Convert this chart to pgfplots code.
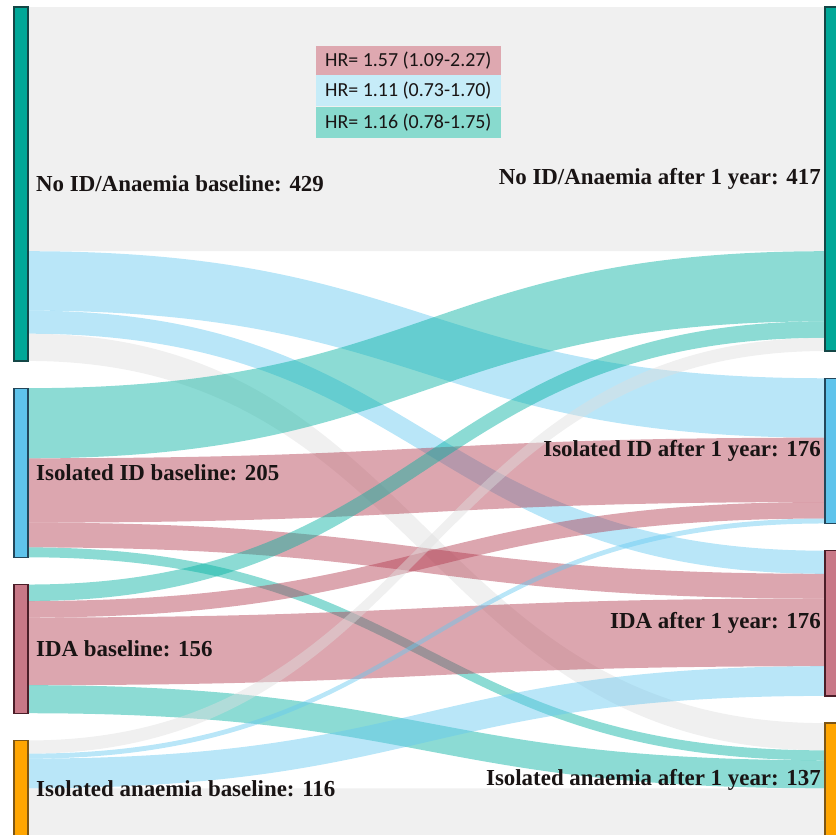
\documentclass[border=0pt]{standalone}
\usepackage{pgfplots}
\pgfplotsset{compat=1.18}
\usepackage{fontspec}
\setmainfont{Liberation Serif}
\newfontfamily\calib{Carlito}
\definecolor{lkgray}{RGB}{222,222,222}
\definecolor{lkblue}{RGB}{100,200,240}
\definecolor{lkteal}{RGB}{0,176,160}
\definecolor{lkred}{RGB}{178,58,78}
\definecolor{ndteal}{RGB}{0,168,152}
\definecolor{ndtealb}{RGB}{20,70,70}
\definecolor{ndblue}{RGB}{95,195,235}
\definecolor{ndblueb}{RGB}{35,70,90}
\definecolor{ndred}{RGB}{200,120,135}
\definecolor{ndredb}{RGB}{75,30,40}
\definecolor{ndorg}{RGB}{255,165,0}
\definecolor{ndorgb}{RGB}{125,85,20}
\definecolor{bxred}{RGB}{222,168,176}
\definecolor{bxblue}{RGB}{198,236,248}
\definecolor{bxteal}{RGB}{136,218,206}
\definecolor{txt}{RGB}{25,20,20}
% flow: colour, left top, left bottom, right top, right bottom (counts, stacked)
\newcommand{\flow}[5]{\fill[#1, fill opacity=0.45] (axis cs:28,#2) .. controls (axis cs:426.5,#2) and (axis cs:426.5,#4) .. (axis cs:825,#4) -- (axis cs:825,#5) .. controls (axis cs:426.5,#5) and (axis cs:426.5,#3) .. (axis cs:28,#3) -- cycle;}
\newcommand{\lab}[1]{\bfseries\fontsize{23}{27}\selectfont\color{txt}#1}
\newcommand{\hr}[1]{\calib\fontsize{20}{24}\selectfont\color{txt}#1}
\begin{document}
\begin{tikzpicture}
\begin{axis}[
  scale only axis, width=836bp, height=835bp,
  hide axis, xmin=0, xmax=836, ymin=-8.485, ymax=1003.6,
  y dir=reverse, clip mode=global]
% No ID baseline (429)
\flow{lkgray}{0}{296}{0}{296}
\flow{lkblue}{296}{368}{450}{522}
\flow{lkblue}{368}{396}{659}{687}
\flow{lkgray}{396}{429}{868}{901}
% Isolated ID baseline (205)
\flow{lkteal}{462}{547}{296}{381}
\flow{lkred}{547}{625}{522}{600}
\flow{lkred}{625}{655}{687}{717}
\flow{lkteal}{655}{667}{901}{913}
% IDA baseline (156)
\flow{lkteal}{700}{720}{381}{401}
\flow{lkred}{720}{740}{600}{620}
\flow{lkred}{740}{822}{717}{799}
\flow{lkteal}{822}{856}{913}{947}
% Isolated anaemia baseline (116)
\flow{lkgray}{889}{905}{401}{417}
\flow{lkblue}{905}{911}{620}{626}
\flow{lkblue}{911}{947}{799}{835}
\flow{lkgray}{947}{1005}{947}{1005}
% nodes
\addplot[fill=ndteal, draw=ndtealb, line width=1.3pt] coordinates {(14,0) (28,0) (28,429) (14,429)} -- cycle;
\addplot[fill=ndblue, draw=ndblueb, line width=1.3pt] coordinates {(14,462) (28,462) (28,667) (14,667)} -- cycle;
\addplot[fill=ndred, draw=ndredb, line width=1.3pt] coordinates {(14,700) (28,700) (28,856) (14,856)} -- cycle;
\addplot[fill=ndorg, draw=ndorgb, line width=1.3pt] coordinates {(14,889) (28,889) (28,1015) (14,1015)} -- cycle;
\addplot[fill=ndteal, draw=ndtealb, line width=1.3pt] coordinates {(825,0) (840,0) (840,417) (825,417)} -- cycle;
\addplot[fill=ndblue, draw=ndblueb, line width=1.3pt] coordinates {(825,450) (840,450) (840,626) (825,626)} -- cycle;
\addplot[fill=ndred, draw=ndredb, line width=1.3pt] coordinates {(825,659) (840,659) (840,835) (825,835)} -- cycle;
\addplot[fill=ndorg, draw=ndorgb, line width=1.3pt] coordinates {(825,868) (840,868) (840,1015) (825,1015)} -- cycle;
% labels
\node[anchor=west, inner sep=0pt] at (axis cs:36,214.5) {\lab{No ID/Anaemia baseline: 429}};
\node[anchor=west, inner sep=0pt] at (axis cs:36,564.5) {\lab{Isolated ID baseline: 205}};
\node[anchor=west, inner sep=0pt] at (axis cs:36,778) {\lab{IDA baseline: 156}};
\node[anchor=west, inner sep=0pt] at (axis cs:36,947) {\lab{Isolated anaemia baseline: 116}};
\node[anchor=east, inner sep=0pt] at (axis cs:821,208.5) {\lab{No ID/Anaemia after 1 year: 417}};
\node[anchor=east, inner sep=0pt] at (axis cs:821,538) {\lab{Isolated ID after 1 year: 176}};
\node[anchor=east, inner sep=0pt] at (axis cs:821,747) {\lab{IDA after 1 year: 176}};
\node[anchor=east, inner sep=0pt] at (axis cs:821,936.5) {\lab{Isolated anaemia after 1 year: 137}};
% HR boxes
\node[anchor=west, fill=bxred, inner xsep=9bp, inner ysep=0pt, minimum height=29bp] at (axis cs:316,64.8) {\hr{HR= 1.57 (1.09-2.27)}};
\node[anchor=west, fill=bxblue, inner xsep=9bp, inner ysep=0pt, minimum height=31bp] at (axis cs:316,101.2) {\hr{HR= 1.11 (0.73-1.70)}};
\node[anchor=west, fill=bxteal, inner xsep=9bp, inner ysep=0pt, minimum height=31bp] at (axis cs:316,140) {\hr{HR= 1.16 (0.78-1.75)}};
\end{axis}
\pgfresetboundingbox
\path[use as bounding box] (current axis.south west) rectangle (current axis.north east);
\end{tikzpicture}
\end{document}
